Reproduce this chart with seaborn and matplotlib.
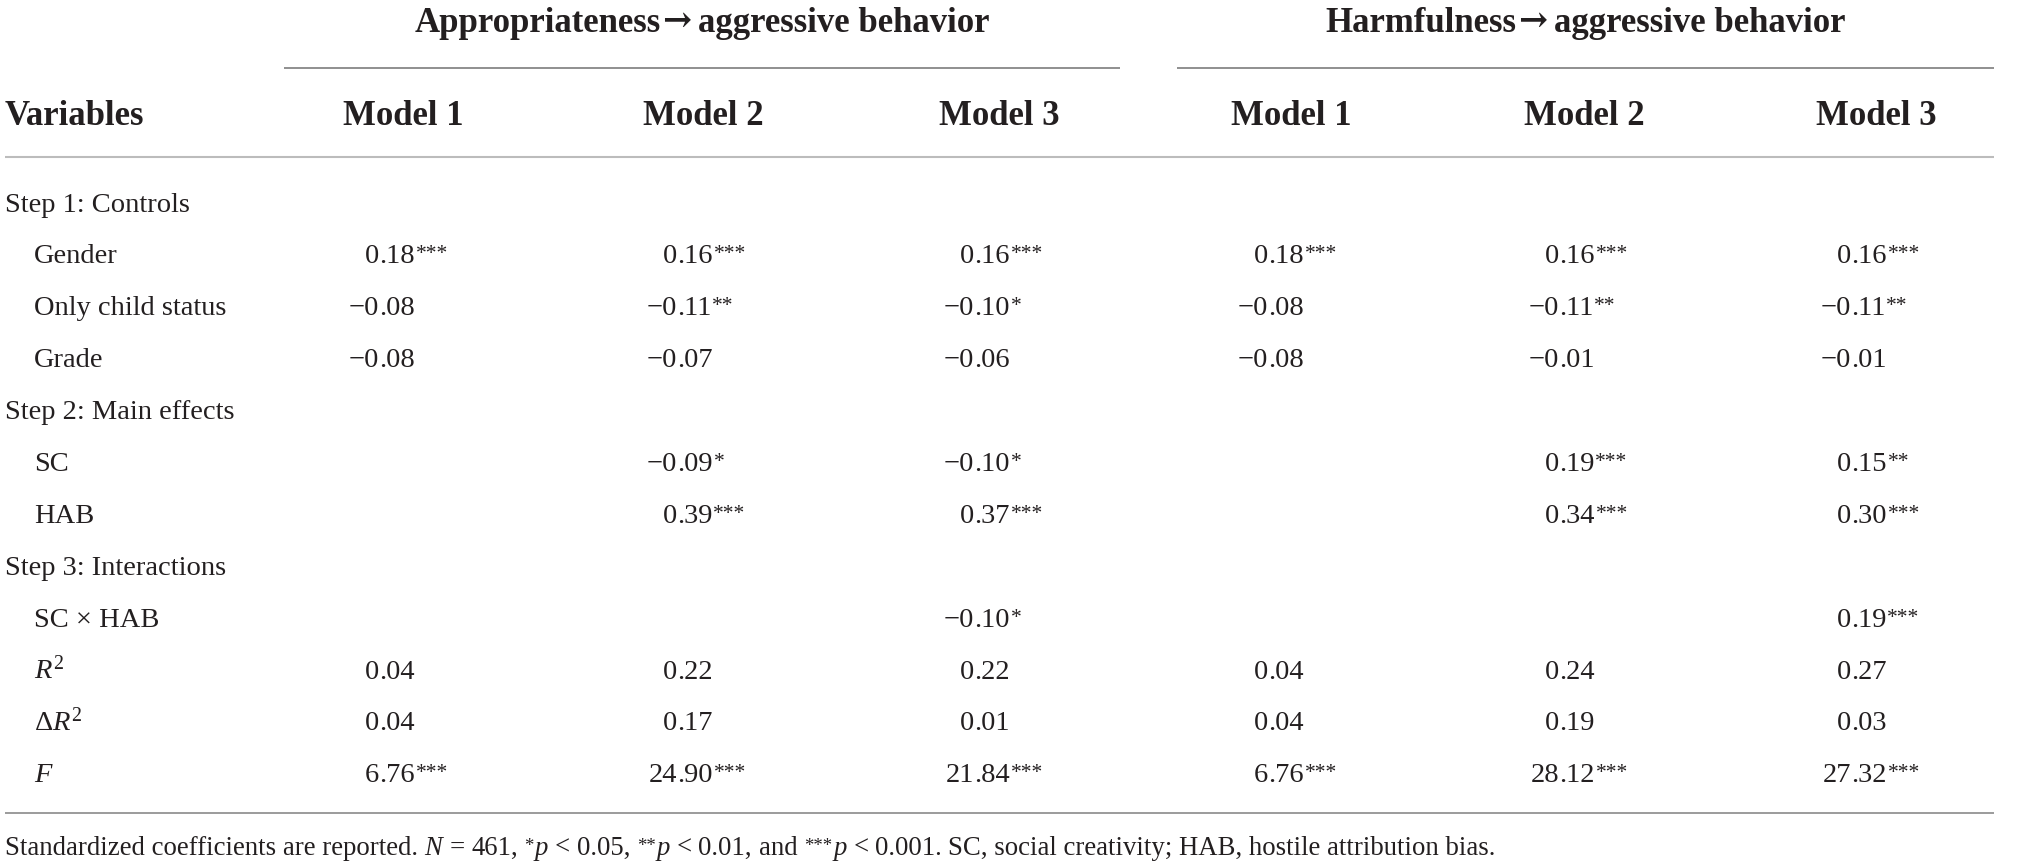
import matplotlib
matplotlib.use("Agg")
import matplotlib.pyplot as plt
import seaborn as sns
import pandas as pd

# ---- table content -------------------------------------------------------
groups = [("Appropriateness", "aggressive behavior"), ("Harmfulness", "aggressive behavior")]
models = ["Model 1", "Model 2", "Model 3"]

row_labels = ["Step 1: Controls", "Gender", "Only child status", "Grade",
              "Step 2: Main effects", "SC", "HAB",
              "Step 3: Interactions", "SC \u00d7 HAB",
              "$R^2$", "\u0394$R^2$", "$F$"]
row_indent = [0, 1, 1, 1, 0, 1, 1, 0, 1, 1, 1, 1]

M = "\u2212"
app_m1 = ["", "0.18***", M + "0.08", M + "0.08", "", "", "", "", "", "0.04", "0.04", "6.76***"]
app_m2 = ["", "0.16***", M + "0.11**", M + "0.07", "", M + "0.09*", "0.39***", "", "", "0.22", "0.17", "24.90***"]
app_m3 = ["", "0.16***", M + "0.10*", M + "0.06", "", M + "0.10*", "0.37***", "", M + "0.10*", "0.22", "0.01", "21.84***"]
harm_m1 = ["", "0.18***", M + "0.08", M + "0.08", "", "", "", "", "", "0.04", "0.04", "6.76***"]
harm_m2 = ["", "0.16***", M + "0.11**", M + "0.01", "", "0.19***", "0.34***", "", "", "0.24", "0.19", "28.12***"]
harm_m3 = ["", "0.16***", M + "0.11**", M + "0.01", "", "0.15**", "0.30***", "", "0.19***", "0.27", "0.03", "27.32***"]

# footnote as (text, kind): n normal, i italic, s superscript, _ space
footnote = [("Standardized coefficients are reported.", "n"), ("", "_"), ("N", "i"), ("", "_"),
            ("=", "n"), ("", "_"), ("461,", "n"), ("", "_"), ("*", "s"), ("p", "i"), ("", "_"),
            ("<", "n"), ("", "_"), ("0.05,", "n"), ("", "_"), ("**", "s"), ("p", "i"), ("", "_"),
            ("<", "n"), ("", "_"), ("0.01,", "n"), ("", "_"), ("and", "n"), ("", "_"),
            ("***", "s"), ("p", "i"), ("", "_"), ("<", "n"), ("", "_"), ("0.001.", "n"), ("", "_"),
            ("SC, social creativity; HAB, hostile attribution bias.", "n")]

table = pd.DataFrame({"A1": app_m1, "A2": app_m2, "A3": app_m3,
                      "H1": harm_m1, "H2": harm_m2, "H3": harm_m3}, index=row_labels)

# ---- style ---------------------------------------------------------------
sns.set_theme(style="white")
plt.rcParams["font.family"] = ["Liberation Serif", "DejaVu Serif"]
plt.rcParams["mathtext.fontset"] = "custom"
plt.rcParams["mathtext.rm"] = "Liberation Serif"
plt.rcParams["mathtext.it"] = "Liberation Serif:italic"
plt.rcParams["mathtext.bf"] = "Liberation Serif:bold"

INK = "#231f20"
HEAD_FS = 25
BODY_FS = 20.5
STAR_FS = 15.5
NOTE_FS = 19.3
NOTE_STAR_FS = 13.5

fig = plt.figure(figsize=(20.19, 8.66), dpi=100)
ax = fig.add_axes([0, 0, 1, 1])
ax.set_xlim(0, 2019)
ax.set_ylim(866, 0)
ax.axis("off")
rend = fig.canvas.get_renderer()


def width(t):
    return t.get_window_extent(renderer=rend).width


# layout (pixels)
head_x = [403, 703, 999, 1291, 1584, 1876]
dec_x = [379, 677, 974, 1268, 1559, 1851]
span = [(284, 1120), (1177, 1994)]
row0, row_step = 202, 51.9

# group titles + spanner rules
for (x0, x1), (left, right) in zip(span, groups):
    t1 = ax.text(0, 32, left, ha="left", va="baseline", fontsize=HEAD_FS,
                 fontweight="bold", color=INK)
    t2 = ax.text(0, 31, "\u2192", ha="left", va="baseline", fontsize=HEAD_FS,
                 fontweight="bold", family="DejaVu Serif", color=INK)
    t3 = ax.text(0, 32, right, ha="left", va="baseline", fontsize=HEAD_FS,
                 fontweight="bold", color=INK)
    w1, w2, w3 = width(t1), width(t2), width(t3)
    gap = 0.22 * HEAD_FS * 100 / 72
    start = (x0 + x1) / 2 - (w1 + w2 + gap + w3) / 2
    t1.set_x(start)
    t2.set_x(start + w1 + 1)
    t3.set_x(start + w1 + w2 + gap)
    ax.hlines(68, x0, x1, color="#7d7d7d", lw=1.2)

# column header row
ax.text(5, 125, "Variables", ha="left", va="baseline",
        fontsize=HEAD_FS, fontweight="bold", color=INK)
for x, m in zip(head_x, models * 2):
    ax.text(x, 125, m, ha="center", va="baseline",
            fontsize=HEAD_FS, fontweight="bold", color=INK)
ax.hlines(157, 5, 1994, color="#bcbcbc", lw=1.5)


def draw_value(xd, yb, s):
    num = s.rstrip("*")
    stars = s[len(num):]
    ip, fp = num.split(".")
    ax.text(xd, yb, ip, ha="right", va="baseline", fontsize=BODY_FS, color=INK)
    t = ax.text(xd, yb, "." + fp, ha="left", va="baseline", fontsize=BODY_FS, color=INK)
    if stars:
        ax.text(xd + width(t) + 1, yb - 4, stars, ha="left", va="baseline",
                fontsize=STAR_FS, color=INK)


for i, (lab, ind) in enumerate(zip(row_labels, row_indent)):
    yb = row0 + i * row_step + 9.5
    ax.text(5 + 29 * ind, yb, lab, ha="left", va="baseline", fontsize=BODY_FS, color=INK)
    for xd, col in zip(dec_x, table.columns):
        val = table.loc[lab, col]
        if val:
            draw_value(xd, yb, val)

ax.hlines(813, 5, 1994, color="#8a8a8a", lw=1.2)

# footnote, assembled piece by piece
x, yb = 5, 855
for txt, kind in footnote:
    if kind == "_":
        x += 0.25 * NOTE_FS * 100 / 72
        continue
    if kind == "s":
        t = ax.text(x, yb - 4, txt, ha="left", va="baseline", fontsize=NOTE_STAR_FS, color=INK)
    else:
        t = ax.text(x, yb, txt, ha="left", va="baseline", fontsize=NOTE_FS, color=INK,
                    style="italic" if kind == "i" else "normal")
    x += width(t) + (1 if kind == "s" else 0)

fig.savefig("out.png", dpi=100, facecolor="white")
